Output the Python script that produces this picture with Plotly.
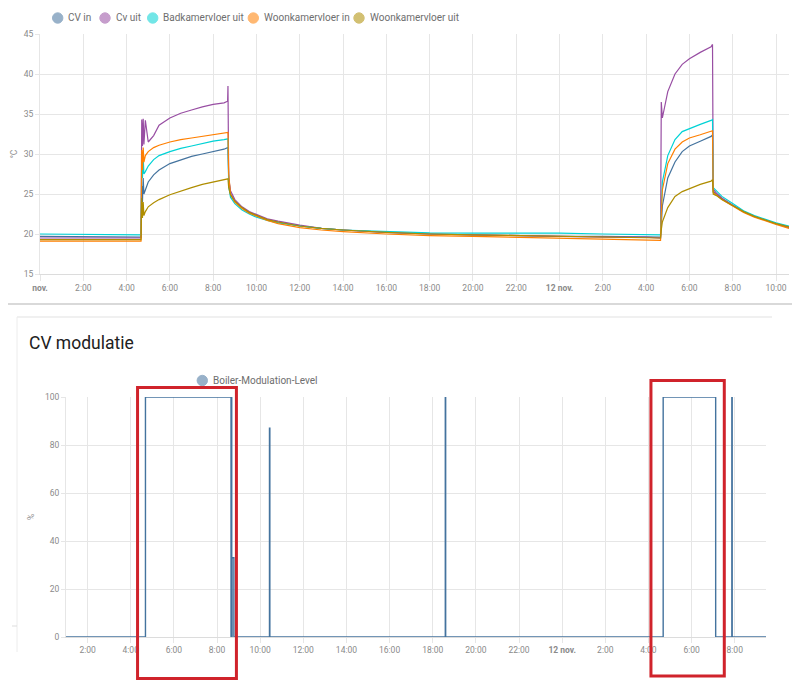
import plotly.graph_objects as go

# the page puts the figure 8px in from the top-left corner
OFF = 8
W, H = 800 - OFF, 695 - OFF

# ---- temperature chart (top) ----
temp_names = ['CV in', 'Cv uit', 'Badkamervloer uit', 'Woonkamervloer in', 'Woonkamervloer uit']
temp_colors = ['#44739e', '#984ea3', '#00d2d5', '#ff7f00', '#af8d00']

temp_times = [
    '11 00:00', '11 04:40', '11 04:42', '11 04:44', '11 04:46', '11 04:48', '11 04:52',
    '11 05:00', '11 05:15', '11 05:30', '11 06:00', '11 06:30', '11 07:00', '11 07:30',
    '11 08:00', '11 08:30', '11 08:40', '11 08:41', '11 08:43', '11 08:48', '11 09:00',
    '11 09:20', '11 09:40', '11 10:00', '11 10:30', '11 11:00', '11 12:00', '11 13:00',
    '11 14:00', '11 16:00', '11 18:00', '11 20:00', '11 22:00', '12 00:00', '12 02:00',
    '12 04:00', '12 04:40', '12 04:42', '12 04:45', '12 05:00', '12 05:20', '12 05:40',
    '12 06:00', '12 06:30', '12 07:00', '12 07:04', '12 07:06', '12 07:15', '12 07:30',
    '12 08:00', '12 08:30', '12 09:00', '12 09:30', '12 10:00', '12 10:36',
]

cv_in = [
    19.7, 19.6, 26.0, 24.0, 27.0, 25.0, 25.5, 26.5, 27.4, 28.0, 28.8, 29.3, 29.7, 30.0,
    30.3, 30.6, 30.8, 30.8, 27.0, 25.0, 24.1, 23.3, 22.7, 22.3, 21.8, 21.5, 21.0, 20.7,
    20.5, 20.2, 20.0, 19.9, 19.8, 19.7, 19.7, 19.6, 19.6, 21.0, 23.5, 27.0, 29.0, 30.3,
    31.0, 31.6, 32.2, 32.4, 25.3, 25.0, 24.4, 23.6, 22.8, 22.2, 21.7, 21.3, 20.9,
]
cv_uit = [
    19.5, 19.5, 34.3, 31.0, 34.4, 31.2, 34.2, 31.5, 32.3, 33.6, 34.5, 35.1, 35.5, 35.9,
    36.2, 36.4, 36.6, 38.5, 27.0, 25.4, 24.3, 23.4, 22.8, 22.4, 21.9, 21.6, 21.1, 20.7,
    20.5, 20.2, 20.0, 19.9, 19.8, 19.7, 19.6, 19.6, 19.5, 36.5, 34.5, 37.8, 40.0, 41.2,
    41.9, 42.7, 43.4, 43.7, 25.6, 25.1, 24.5, 23.6, 22.8, 22.2, 21.7, 21.3, 20.8,
]
badkamer_uit = [
    20.0, 19.9, 29.0, 27.0, 29.5, 27.5, 27.8, 28.5, 29.3, 29.8, 30.3, 30.7, 31.0, 31.3,
    31.6, 31.8, 31.9, 31.9, 26.0, 24.6, 23.8, 23.0, 22.5, 22.1, 21.7, 21.4, 21.0, 20.7,
    20.5, 20.3, 20.15, 20.1, 20.1, 20.1, 20.0, 19.9, 19.9, 23.0, 26.5, 29.8, 31.8, 32.8,
    33.2, 33.7, 34.2, 34.3, 25.8, 25.4, 24.7, 23.8, 22.9, 22.3, 21.8, 21.4, 21.0,
]
woonkamer_in = [
    19.1, 19.1, 30.5, 28.0, 30.8, 29.0, 29.8, 30.3, 30.8, 31.1, 31.5, 31.8, 32.0, 32.2,
    32.4, 32.6, 32.7, 32.7, 27.5, 25.0, 24.0, 23.2, 22.6, 22.2, 21.7, 21.3, 20.8, 20.5,
    20.3, 20.0, 19.8, 19.7, 19.6, 19.5, 19.4, 19.3, 19.2, 22.5, 25.5, 28.8, 30.6, 31.5,
    32.0, 32.4, 32.8, 32.9, 25.2, 24.9, 24.3, 23.5, 22.7, 22.1, 21.6, 21.2, 20.7,
]
woonkamer_uit = [
    19.3, 19.3, 24.5, 22.0, 24.0, 22.3, 22.8, 23.4, 23.9, 24.3, 24.9, 25.4, 25.8, 26.2,
    26.5, 26.8, 26.9, 26.9, 25.8, 24.9, 24.1, 23.3, 22.7, 22.3, 21.8, 21.5, 21.0, 20.7,
    20.5, 20.2, 20.0, 19.9, 19.8, 19.7, 19.6, 19.5, 19.5, 20.5, 21.5, 23.3, 24.7, 25.3,
    25.7, 26.2, 26.6, 26.8, 25.0, 24.8, 24.3, 23.5, 22.8, 22.2, 21.7, 21.3, 20.9,
]
temp_series = [cv_in, cv_uit, badkamer_uit, woonkamer_in, woonkamer_uit]

# ---- modulation chart (bottom) ----
mod_name = 'Boiler-Modulation-Level'
mod_times = [
    '11 01:00', '11 04:41', '11 08:39', '11 08:40', '11 08:41', '11 08:42', '11 08:47',
    '11 10:26', '11 10:27', '11 18:35', '11 18:36', '12 04:41', '12 07:07', '12 07:52',
    '12 07:53', '12 09:27',
]
mod_level = [0, 100, 0, 100, 0, 33, 0, 87, 0, 100, 0, 100, 0, 100, 0, 0]

# tick labels
top_tickvals = ['11 00:00', '11 02:00', '11 04:00', '11 06:00', '11 08:00', '11 10:00',
                '11 12:00', '11 14:00', '11 16:00', '11 18:00', '11 20:00', '11 22:00',
                '12 00:00', '12 02:00', '12 04:00', '12 06:00', '12 08:00', '12 10:00']
top_ticktext = ['<b>nov.</b>', '2:00', '4:00', '6:00', '8:00', '10:00', '12:00', '14:00',
                '16:00', '18:00', '20:00', '22:00', '<b>12 nov.</b>', '2:00', '4:00',
                '6:00', '8:00', '10:00']
bot_tickvals = ['11 02:00', '11 04:00', '11 06:00', '11 08:00', '11 10:00', '11 12:00',
                '11 14:00', '11 16:00', '11 18:00', '11 20:00', '11 22:00', '12 00:00',
                '12 02:00', '12 04:00', '12 06:00', '12 08:00']
bot_ticktext = ['2:00', '4:00', '6:00', '8:00', '10:00', '12:00', '14:00', '16:00',
                '18:00', '20:00', '22:00', '<b>12 nov.</b>', '2:00', '4:00', '6:00', '8:00']

# highlighted periods (red boxes)
highlight_periods = [('11 04:19', '11 08:54'), ('12 04:07', '12 07:31')]


def ts(s):
    # '11 04:40' -> full timestamp
    return '2023-11-' + s


# screen pixel -> paper fraction
def px(x):
    return (x - OFF) / W


def py(y):
    return 1 - (y - OFF) / H


fig = go.Figure()

for name, color, vals in zip(temp_names, temp_colors, temp_series):
    fig.add_trace(go.Scatter(
        x=[ts(t) for t in temp_times], y=vals, name=name,
        mode='lines', line=dict(color=color, width=1.2),
        xaxis='x', yaxis='y', showlegend=False,
    ))

fig.add_trace(go.Scatter(
    x=[ts(t) for t in mod_times], y=mod_level, name=mod_name,
    mode='lines', line=dict(color='#44739e', width=1.4, shape='hv'),
    xaxis='x2', yaxis='y2', showlegend=False,
))

grid = '#e6e6e6'
tickfont = dict(family='Roboto', size=8.5, color='#8a8a8a')

layout = dict(
    width=W, height=H,
    margin=dict(l=0, r=0, t=0, b=0),
    paper_bgcolor='white', plot_bgcolor='white',
    font=dict(family='Roboto'),
    xaxis=dict(
        domain=[px(40), px(789)], anchor='y', type='date',
        range=[ts('11 00:00'), ts('12 10:36')],
        tickmode='array', tickvals=[ts(t) for t in top_tickvals], ticktext=top_ticktext,
        showgrid=True, gridcolor=grid, ticks='outside', ticklen=6, tickcolor=grid,
        showline=True, linecolor='#dcdcdc', zeroline=False, tickfont=tickfont,
        automargin=False,
    ),
    yaxis=dict(
        domain=[py(274), py(34)], anchor='x', range=[15, 45], dtick=5,
        showgrid=True, gridcolor=grid, ticks='outside', ticklen=4, tickcolor=grid,
        showline=True, linecolor=grid, zeroline=False, tickfont=tickfont,
        title=dict(text='°C', font=dict(size=8.5, color='#8a8a8a'), standoff=4),
        automargin=False,
    ),
    xaxis2=dict(
        domain=[px(66), px(766)], anchor='y2', type='date',
        range=[ts('11 01:00'), ts('12 09:27')],
        tickmode='array', tickvals=[ts(t) for t in bot_tickvals], ticktext=bot_ticktext,
        showgrid=True, gridcolor=grid, ticks='outside', ticklen=5, tickcolor=grid,
        showline=True, linecolor='#dcdcdc', zeroline=False, tickfont=tickfont,
        automargin=False,
    ),
    yaxis2=dict(
        domain=[py(637), py(397)], anchor='x2', range=[0, 100], dtick=20,
        showgrid=True, gridcolor=grid, ticks='outside', ticklen=4, tickcolor=grid,
        showline=True, linecolor=grid, zeroline=False, tickfont=tickfont,
        title=dict(text='%', font=dict(size=8.5, color='#8a8a8a'), standoff=8),
        automargin=False,
    ),
)
fig.update_layout(**layout)

shapes = []
annotations = []

# card borders
card = '#d9d9d9'
shapes.append(dict(type='line', xref='paper', yref='paper', x0=0, x1=px(797),
                   y0=py(304), y1=py(304), line=dict(color=card, width=2)))
shapes.append(dict(type='line', xref='paper', yref='paper', x0=px(797), x1=px(797),
                   y0=1, y1=py(302), line=dict(color='#e4e4e4', width=2)))
shapes.append(dict(type='line', xref='paper', yref='paper', x0=px(17), x1=px(772),
                   y0=py(317), y1=py(317), line=dict(color='#f0f0f0', width=2)))
shapes.append(dict(type='line', xref='paper', yref='paper', x0=px(17), x1=px(17),
                   y0=py(317), y1=py(652), line=dict(color='#ececec', width=1)))
shapes.append(dict(type='line', xref='paper', yref='paper', x0=px(12), x1=px(17),
                   y0=py(626), y1=py(626), line=dict(color='#dddddd', width=1)))


def legend_item(cx, cy, color, label):
    r = 5.2
    shapes.append(dict(type='circle', xref='paper', yref='paper',
                       x0=px(cx - r), x1=px(cx + r), y0=py(cy + r), y1=py(cy - r),
                       fillcolor=color, opacity=0.55, line=dict(color=color, width=1)))
    annotations.append(dict(x=px(cx + 8.5), y=py(cy), xref='paper', yref='paper',
                            text=label, showarrow=False, xanchor='left', yanchor='middle',
                            font=dict(family='Roboto', size=10, color='#6e6e6e')))


legend_x = [57.7, 105, 152.7, 253.3, 359]
for cx, color, name in zip(legend_x, temp_colors, temp_names):
    legend_item(cx, 18, color, name)
legend_item(202.3, 380.5, '#44739e', mod_name)

# card title of the lower chart
annotations.append(dict(x=px(27), y=py(343), xref='paper', yref='paper',
                        text='CV modulatie', showarrow=False, xanchor='left',
                        yanchor='middle', font=dict(family='Roboto', size=17.5, color='#212121')))

# red highlight boxes
box_y = [(py(678.5), py(387.5)), (py(676), py(380.5))]
for (t0, t1), (y0, y1) in zip(highlight_periods, box_y):
    shapes.append(dict(type='rect', xref='x2', yref='paper', x0=ts(t0), x1=ts(t1),
                       y0=y0, y1=y1, line=dict(color='#d0232b', width=3),
                       fillcolor='rgba(0,0,0,0)', layer='above'))

fig.update_layout(shapes=shapes, annotations=annotations)

fig.write_html('out.html')
